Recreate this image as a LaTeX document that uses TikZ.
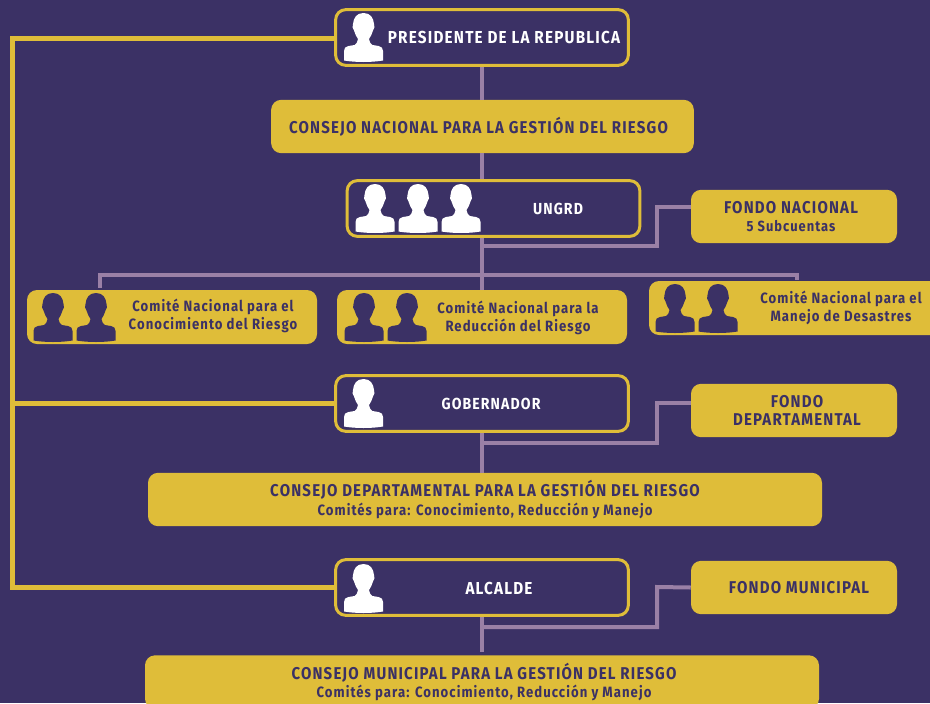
\documentclass[tikz,border=0pt]{standalone}
\usepackage{fontspec}
\setmainfont{Fira Sans}[FakeStretch=0.88,LetterSpace=7]
\usetikzlibrary{positioning}
\definecolor{fondo}{HTML}{3B3165}
\definecolor{oro}{HTML}{DFBD39}
\definecolor{lila}{HTML}{9A80A6}
\tikzset{
    caja/.style={rectangle, rounded corners=7.5pt, fill=oro, text=fondo, inner sep=0, align=center,
      font=\bfseries\fontsize{12.8}{14}\selectfont},
    marco/.style={rectangle, rounded corners=7.5pt, draw=oro, line width=2.25pt, fill=fondo, inner sep=0,
      minimum width=219.5pt, minimum height=41.75pt},
    blanco/.style={text=white, align=center, font=\bfseries\fontsize{12}{14}\selectfont},
    azul/.style={text=fondo, align=center, inner sep=0, font=\bfseries\fontsize{11.2}{13.5}\selectfont},
    mando/.style={oro, line width=3.75pt},
    enlace/.style={lila, line width=3pt},
    pics/persona/.style={code={
      \fill[pic actions] (0,0) .. controls (7,0) and (10,5) .. (10.5,11)
        .. controls (11.5,13) and (11,16) .. (9.5,17.5)
        .. controls (8.5,21) and (7,24) .. (5.5,26)
        .. controls (6,29) and (7,31) .. (9,32)
        -- (15,33) .. controls (18,33.5) and (19.5,35) .. (19.5,38)
        -- (19.5,47.5) .. controls (8,49.5) and (-8,49.5) .. (-19.5,47.5)
        -- (-19.5,38) .. controls (-19.5,35) and (-18,33.5) .. (-15,33)
        -- (-9,32) .. controls (-7,31) and (-6,29) .. (-5.5,26)
        .. controls (-7,24) and (-8.5,21) .. (-9.5,17.5)
        .. controls (-11,16) and (-11.5,13) .. (-10.5,11)
        .. controls (-10,5) and (-7,0) .. (0,0) -- cycle;
    }},
  }
\begin{document}
\begin{tikzpicture}[x=0.75pt, y=-0.75pt]
  \fill[fondo] (0,0) rectangle (930,703);
  \useasboundingbox (0,0) rectangle (930,703);
  % cajas de la columna central
  \node (presidente) [marco] at (482,37.5) {};
  \node (consejonal) [caja, minimum width=317pt, minimum height=40pt] at (482.5,126.5) {\hspace*{-6pt}CONSEJO NACIONAL PARA LA GESTIÓN DEL RIESGO};
  \node (ungrd) [marco] at (493.5,208.5) {};
  \node (fondonal) [caja, minimum width=154.5pt, minimum height=40pt] at (794,216.5) {\hspace*{-4.5pt}FONDO NACIONAL\\\hspace*{-4.5pt}\fontsize{11}{14}\selectfont 5 Subcuentas};
  % comites
  \node (comite1) [caja, minimum width=217.5pt, minimum height=40.5pt] at (172,317) {};
  \node (comite2) [caja, minimum width=217.5pt, minimum height=40.5pt] at (482,317) {};
  \node (comite3) [caja, minimum width=240pt, minimum height=40.5pt] at (809,308) {};
  % departamento
  \node (gobernador) [marco] at (482,403.5) {};
  \node (fondodep) [caja, minimum width=154.5pt, minimum height=40pt] at (794,410.5) {\hspace*{4.5pt}FONDO\\\hspace*{4.5pt}DEPARTAMENTAL};
  \node (consejodep) [caja, minimum width=505.5pt, minimum height=40pt] at (485,499.5) {CONSEJO DEPARTAMENTAL PARA LA GESTIÓN DEL RIESGO\\\fontsize{11.2}{14.5}\selectfont Comités para: Conocimiento, Reducción y Manejo};
  % municipio
  \node (alcalde) [marco] at (482,587.5) {};
  \node (fondomun) [caja, minimum width=154.5pt, minimum height=40pt] at (794,587.5) {\hspace*{7.5pt}FONDO MUNICIPAL};
  \node (consejomun) [caja, minimum width=505.5pt, minimum height=40pt] at (482,682) {\hspace*{3pt}CONSEJO MUNICIPAL PARA LA GESTIÓN DEL RIESGO\\\hspace*{3pt}\fontsize{11.2}{14.5}\selectfont Comités para: Conocimiento, Reducción y Manejo};
  % textos junto a las figuras
  \node (presidente-t) [blanco, font=\bfseries\fontsize{13}{14}\selectfont] at (504,37) {PRESIDENTE DE LA REPUBLICA};
  \node (ungrd-t) [blanco] at (558,209) {UNGRD};
  \node (gobernador-t) [blanco] at (491,404) {GOBERNADOR};
  \node (alcalde-t) [blanco, font=\bfseries\fontsize{13}{14}\selectfont] at (499,588) {ALCALDE};
  \node (comite1-t) [azul] at (213,316) {Comité Nacional para el\\Conocimiento del Riesgo};
  \node (comite2-t) [azul] at (518,318) {Comité Nacional para la\\Reducción del Riesgo};
  \node (comite3-t) [azul] at (841,308) {Comité Nacional para el\\Manejo de Desastres};
  % figuras
  \pic[fill=white] at (363.5,13) {persona};
  \foreach \x in {375,418,461} \pic[fill=white] at (\x,184) {persona};
  \pic[fill=white] at (363.5,379) {persona};
  \pic[fill=white] at (363.5,564) {persona};
  \foreach \x in {53,96,364,407} \pic[fill=fondo] at (\x,293) {persona};
  \foreach \x in {675,718} \pic[fill=fondo] at (\x,284) {persona};
  % enlaces
  \coordinate (tronco) at (12,38);
  \coordinate (bus1) at (100,275);
  \coordinate (bus3) at (797,275);
  \draw[mando] (presidente.west |- tronco) -- (tronco) |- (alcalde.west);
  \draw[mando] (tronco |- gobernador.west) -- (gobernador.west);
  \draw[enlace] (presidente) -- (presidente |- consejonal.north);
  \draw[enlace] (presidente |- consejonal.south) -- (presidente |- ungrd.north);
  \draw[enlace] (presidente |- ungrd.south) -- (presidente |- comite2.north);
  \draw[enlace] (comite1.north -| bus1) ++(0,-2) -- (bus1) -- (bus3) -- ++(0,4.5);
  \draw[enlace] (fondonal.west |- 0,207) -- (657,207) |- (presidente |- 0,246);
  \draw[enlace] (gobernador) -- (consejodep.north -| gobernador);
  \draw[enlace] (fondodep.west |- 0,403) -- (657,403) |- (gobernador |- 0,443);
  \draw[enlace] (alcalde.south) -- (alcalde.south |- 0,652);
  \draw[enlace] (fondomun.west) -- (657,587) |- (alcalde |- 0,627);
\end{tikzpicture}
\end{document}
